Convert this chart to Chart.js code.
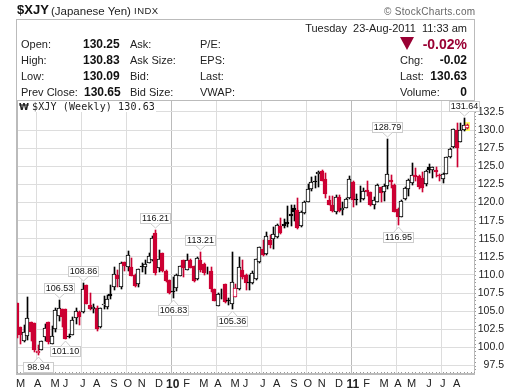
<!DOCTYPE html>
<html lang="en">
<head>
    <meta charset="UTF-8">
    <title>$XJY</title>
    <script src="https://cdn.jsdelivr.net/npm/chart.js"></script>
    <style>
        html, body { margin: 0; padding: 0; background: #fff; }
        #wrap { position: relative; width: 520px; height: 391px; overflow: hidden; font: 11px 'Liberation Sans', Arial, sans-serif; color: #222; }
        #wrap canvas { position: absolute; left: 0; top: 0; }
        .t { position: absolute; line-height: 14px; height: 14px; white-space: pre; }
        .b { font-weight: bold; color: #111; font-size: 12px; }
        .r { text-align: right; }
        #box { position: absolute; left: 16px; top: 19px; width: 457px; height: 80px; border: 1px solid #bbb; }
        #tri { position: absolute; left: 400px; top: 37px; width: 0; height: 0; border-left: 7px solid transparent; border-right: 7px solid transparent; border-top: 13px solid #990033; }
        #legend { position: absolute; left: 18px; top: 101px; width: 138px; height: 11px; background: #fff; }
    </style>
</head>
<body>
<div id="wrap">
    <canvas id="chart" width="520" height="391"></canvas>
    <div id="box"></div>
    <div class="t b" style="left:17px;top:3px;font-size:13px">$XJY</div>
    <div class="t" style="left:51px;top:4px;font-size:11.5px">(Japanese Yen)</div>
    <div class="t" style="left:134px;top:4px;font-size:9.5px;letter-spacing:.5px">INDX</div>
    <div class="t" style="left:384px;top:5px;color:#666;font-size:10px;letter-spacing:.3px">© StockCharts.com</div>

    <div class="t r" style="right:53px;top:21px">Tuesday  23-Aug-2011  11:33 am</div>
    <div id="tri"></div>
    <div class="t b r" style="right:53px;top:37px;font-size:14px;color:#990033">-0.02%</div>

    <div class="t" style="left:21px;top:37px">Open:</div>
    <div class="t b" style="left:83px;top:37px">130.25</div>
    <div class="t" style="left:130px;top:37px">Ask:</div>
    <div class="t" style="left:200px;top:37px">P/E:</div>

    <div class="t" style="left:21px;top:53px">High:</div>
    <div class="t b" style="left:83px;top:53px">130.83</div>
    <div class="t" style="left:130px;top:53px">Ask Size:</div>
    <div class="t" style="left:200px;top:53px">EPS:</div>
    <div class="t" style="left:400px;top:53px">Chg:</div>
    <div class="t b r" style="right:53px;top:53px">-0.02</div>

    <div class="t" style="left:21px;top:69px">Low:</div>
    <div class="t b" style="left:83px;top:69px">130.09</div>
    <div class="t" style="left:130px;top:69px">Bid:</div>
    <div class="t" style="left:200px;top:69px">Last:</div>
    <div class="t" style="left:400px;top:69px">Last:</div>
    <div class="t b r" style="right:53px;top:69px">130.63</div>

    <div class="t" style="left:21px;top:85px">Prev Close:</div>
    <div class="t b" style="left:84px;top:85px">130.65</div>
    <div class="t" style="left:130px;top:85px">Bid Size:</div>
    <div class="t" style="left:200px;top:85px">VWAP:</div>
    <div class="t" style="left:400px;top:85px">Volume:</div>
    <div class="t b r" style="right:53px;top:85px">0</div>

    <div id="legend"></div>
    <div class="t" style="left:19px;top:100px;font:bold 9px/14px 'DejaVu Sans'">₩</div>
    <div class="t" style="left:32px;top:100px;font:10px/14px 'DejaVu Sans Mono';letter-spacing:.13px">$XJY (Weekly) 130.63</div>
</div>

<script>
    const opens = [
        106.2,102.85,100.9,101.65,103.45,103.4,99.17,99.7,101.5,103.5,
        100.45,102.5,104.37,105.3,105.3,101.56,101.75,104.1,104.9,104.9,
        108.55,105.85,105.25,105.5,102.85,105.9,105.6,107.4,108.3,109.95,
        108.3,111.75,111.1,111.1,110,108.75,111.2,111.1,111.7,112.05,
        115.8,110.9,113.05,110.5,109.3,107.85,108.15,109.9,112,110.75,
        112.05,111.2,109.4,112.05,111.5,110.4,110.55,108.05,105.75,107.4,
        108.75,106.5,106.05,107,108,110.75,110,109,108.95,109.5,
        111.85,113.65,112.85,114.85,115,115.2,116.75,117,117.25,118.4,
        119.2,119,116.7,118.6,120,121.85,123,123.9,124.4,123.2,
        120.35,119.65,118.75,120.8,118.9,119.3,120.6,122.85,120.45,121.1,
        120.5,121.7,121.45,119.7,120.1,122.1,121.5,122.25,123.1,122.4,
        119.1,118.05,120.45,121.8,122.65,123.75,123.7,123.35,122.55,124.85,
        124.5,124.55,123.75,123.2,124,126.3,127.7,130,128.4,130,130.25
    ];
    const highs = [
        106.2,102.85,103.1,106.9,103.5,103.4,100.3,100.85,103.2,103.5,
        103,105.5,106.53,105.3,105.3,101.9,104.2,105.4,105,108.86,
        108.55,107.45,106.05,105.7,105.4,107.1,107.2,108.6,111.1,110.75,
        111.8,111.8,113.35,112.3,110.2,110.85,111.6,112,113,115.4,
        116.21,113.4,113.05,110.7,109.3,109.75,110.2,111.3,112.05,112.9,
        112.2,111.3,112.5,113.21,111.6,111.1,111.1,108.1,107.5,108.1,
        108.8,106.8,113.2,108.7,112.5,112.05,110.1,110,110.6,112.2,
        113.8,114.8,115.95,115.5,116.65,117,117.8,117.7,119.5,119.65,
        119.6,120.6,118.8,120.2,122.5,123.55,123.7,124.35,124.5,124.1,
        120.9,120.9,121.05,121.05,120,120.65,123.6,122.9,121.15,122.3,
        122,123,121.5,120.7,122.5,122.2,122.6,128.79,123.8,122.5,
        119.2,120.3,122.1,123.3,125.4,124.7,123.8,124.25,124.55,125.3,
        124.95,124.95,124,124.1,126.3,127.5,130.15,130.9,130.9,131.64,130.83
    ];
    const lows = [
        101.3,100.45,100.8,101,100.9,99.4,98.94,99.6,100.9,100.5,
        100.45,102.15,103.7,102.85,101.1,101.25,101.7,103.3,103.1,104.7,
        106,105.15,104.7,102.3,102.75,105.3,105.3,106.75,107.9,108.3,
        108,110.5,110.5,109.9,108.3,108.4,110.45,110.2,111.6,111.9,
        110,110.4,110.4,109.1,107.4,106.83,107.75,109.8,109.75,110.65,
        110.9,109.1,109.3,110.4,110,110.1,107.7,106.4,105.7,106.75,
        106.2,105.8,105.36,106.9,107.9,109.5,107.9,107.9,108.8,109.35,
        111.7,112.6,112.7,113.7,113.6,115.1,115.6,116.5,116.6,116.75,
        117.4,116.3,116.6,118.4,120,121.6,122,122.2,122.9,120.65,
        119.6,118.65,118.4,118.7,118.3,119.2,120.5,119.4,119.65,120.1,
        120.35,120.9,119.5,119.05,120,120.1,120.25,121.9,121.95,118.7,
        116.95,117.95,120.3,120.9,122.4,122.9,121.9,121.5,122.3,124.1,
        123.35,123.55,123,122.65,124,126.2,127.55,124.95,128.3,129.9,130.09
    ];
    const closes = [
        102,101.7,102.07,104.1,102.15,99.6,99.55,100.83,102.75,100.75,
        101.55,105.15,105.47,104.15,101.15,101.38,103.85,105.05,104.25,108.05,
        106,105.25,105.65,102.5,105.38,106,106.75,107.1,110.2,109.45,
        111.6,111.2,112.8,109.9,108.45,110.8,111.05,111.45,112.6,115.15,
        110.3,112.2,110.5,109.2,107.55,107.6,110.05,111.25,111,112,
        111,109.2,112.4,110.75,110.3,110.35,108,106.45,107.35,107.36,
        106.3,106.35,109.05,108.2,111.05,109.75,108.85,108.9,110.3,112.15,
        113.8,112.75,115.4,114.15,115.6,116.85,115.75,116.7,117,118.2,
        118.75,116.55,118.75,120.1,121.8,122.8,122.85,124.25,123,121.2,
        119.65,118.8,120.8,118.85,119.2,120.5,123.2,120.35,120.4,121,
        121.6,121.45,119.6,120.3,122.35,121.35,122.3,123.9,122.85,118.75,
        117.95,120.25,122.05,123.1,123.75,123.55,122.1,122,124.35,124.5,
        124.85,124.2,123.6,124,126.25,127.35,130.1,127.45,130,130.65,130.63
    ];

    const monthTickIdx = [1,6,11,14,19,23,28,32,36,41,45,49,54,58,63,66,71,75,80,84,88,93,97,101,106,110,114,119,123,127];
    const monthLabels = ['M','A','M','J','J','A','S','O','N','D','10','F','M','A','M','J','J','A','S','O','N','D','11','F','M','A','M','J','J','A'];
    const quarterIdx = [6,19,32,45,58,71,84,97,110,123];
    const yearIdx = [45,97];

    const calloutIdx = [6,12,14,19,40,45,53,62,107,110,129];
    const calloutVal = [98.94,106.53,101.10,108.86,116.21,106.83,113.21,105.36,128.79,116.95,131.64];
    const calloutAbove = [false,true,false,true,true,false,true,false,true,false,true];

    const red = '#cc0033';
    const black = '#000000';

    const labels = [];
    for (let i = 0; i < 133; i++) labels.push(String(i));

    const isUp = closes.map((c, i) => i > 0 && c >= closes[i - 1]);
    const isHollow = closes.map((c, i) => c > opens[i]);
    const candleColor = isUp.map(u => u ? black : red);
    const bodyFill = closes.map((c, i) => isHollow[i] ? '#ffffff' : candleColor[i]);

    // snap bars to whole pixels, the original is not antialiased
    const snapBars = {
        id: 'snapBars',
        afterDatasetsUpdate(chart) {
            chart.data.datasets.forEach((ds, n) => {
                chart.getDatasetMeta(n).data.forEach(el => {
                    el.x = Math.round(el.x) + (n === 1 ? 0.5 : 0);
                    el.y = Math.round(el.y);
                    el.base = Math.round(el.base);
                });
            });
        }
    };

    const extras = {
        id: 'extras',
        beforeDatasetsDraw(chart) {
            const { ctx, chartArea: area, scales: { x, y } } = chart;
            ctx.fillStyle = '#bbb';
            ctx.fillRect(area.left - 1, area.top, 2, area.height);
            // highlight on the latest bar
            const last = closes.length - 1;
            ctx.fillStyle = '#ffff66';
            ctx.fillRect(Math.round(x.getPixelForValue(last)) - 2, Math.round(y.getPixelForValue(130.9)) - 1, 5, 9);
        },
        afterDatasetsDraw(chart) {
            const { ctx, chartArea: area, scales: { x, y } } = chart;
            ctx.save();
            // weekly dots on the bottom axis, half point dots on the right one
            ctx.fillStyle = '#999';
            for (let i = 0; i < labels.length; i++) {
                ctx.fillRect(Math.round(x.getPixelForTick(i)), area.bottom - 2, 1, 1);
            }
            for (let v = 97; v < 134; v += 0.5) {
                ctx.fillRect(area.right + 1, Math.round(y.getPixelForValue(v)), 1, 1);
            }
            // callouts
            ctx.font = "9px 'Liberation Sans', Arial, sans-serif";
            ctx.textAlign = 'center';
            ctx.textBaseline = 'middle';
            calloutIdx.forEach((idx, n) => {
                const px = Math.round(x.getPixelForValue(idx)) + 0.5;
                const py = Math.round(y.getPixelForValue(calloutVal[n]));
                const dir = calloutAbove[n] ? -1 : 1;
                const apex = py + dir * 2;
                const edge = apex + dir * 5;
                const top = calloutAbove[n] ? edge - 10 : edge;
                const left = px - 15;
                ctx.fillStyle = '#fff';
                ctx.strokeStyle = '#ccc';
                ctx.lineWidth = 1;
                ctx.fillRect(left, top, 30, 10);
                ctx.strokeRect(left, top + 0.5, 30, 10);
                ctx.beginPath();
                ctx.moveTo(px - 5, edge + 0.5);
                ctx.lineTo(px, apex);
                ctx.lineTo(px + 5, edge + 0.5);
                ctx.fillStyle = '#fff';
                ctx.fill();
                ctx.stroke();
                ctx.fillStyle = '#111';
                ctx.fillText(calloutVal[n].toFixed(2), px, top + 6);
            });
            ctx.restore();
        }
    };

    new Chart(document.getElementById('chart'), {
        type: 'bar',
        data: {
            labels: labels,
            datasets: [
                {
                    label: 'body',
                    data: opens.map((o, i) => [o, closes[i]]),
                    backgroundColor: bodyFill,
                    borderColor: candleColor,
                    borderWidth: 1,
                    borderSkipped: false,
                    barThickness: 4,
                    grouped: false
                },
                {
                    label: 'range',
                    data: lows.map((l, i) => [l, highs[i]]),
                    backgroundColor: candleColor,
                    borderWidth: 0,
                    barThickness: 1,
                    grouped: false
                }
            ]
        },
        options: {
            responsive: false,
            animation: false,
            layout: { padding: { left: 17, top: 100, right: 16, bottom: 0 } },
            plugins: { legend: { display: false }, tooltip: { enabled: false } },
            scales: {
                x: {
                    type: 'category',
                    offset: false,
                    afterFit: s => { s.height = 17; },
                    border: { color: '#bbb', width: 2 },
                    grid: {
                        drawTicks: false,
                        color: ctx => {
                            const i = ctx.index;
                            if (yearIdx.includes(i)) return '#bbb';
                            return quarterIdx.includes(i) ? '#ddd' : 'transparent';
                        }
                    },
                    ticks: {
                        autoSkip: false,
                        maxRotation: 0,
                        padding: 3,
                        color: '#222',
                        font: ctx => {
                            const n = monthTickIdx.indexOf(ctx.index);
                            return (n >= 0 && yearIdx.includes(ctx.index))
                                ? { family: "'Liberation Sans', Arial", size: 12, weight: 'bold' }
                                : { family: "'Liberation Sans', Arial", size: 11 };
                        },
                        callback: (v, i) => {
                            const n = monthTickIdx.indexOf(i);
                            return n >= 0 ? monthLabels[n] : '';
                        }
                    }
                },
                y: {
                    position: 'right',
                    min: 96.34,
                    max: 134.14,
                    afterFit: s => { s.width = 30; },
                    border: { color: '#bbb', width: 1 },
                    grid: { color: '#ddd', drawTicks: false },
                    ticks: {
                        stepSize: 2.5,
                        includeBounds: false,
                        padding: 5,
                        crossAlign: 'far',
                        color: '#222',
                        font: { family: "'Liberation Sans', Arial", size: 10.5 },
                        callback: v => v.toFixed(1)
                    }
                }
            }
        },
        plugins: [snapBars, extras]
    });
</script>
</body>
</html>
